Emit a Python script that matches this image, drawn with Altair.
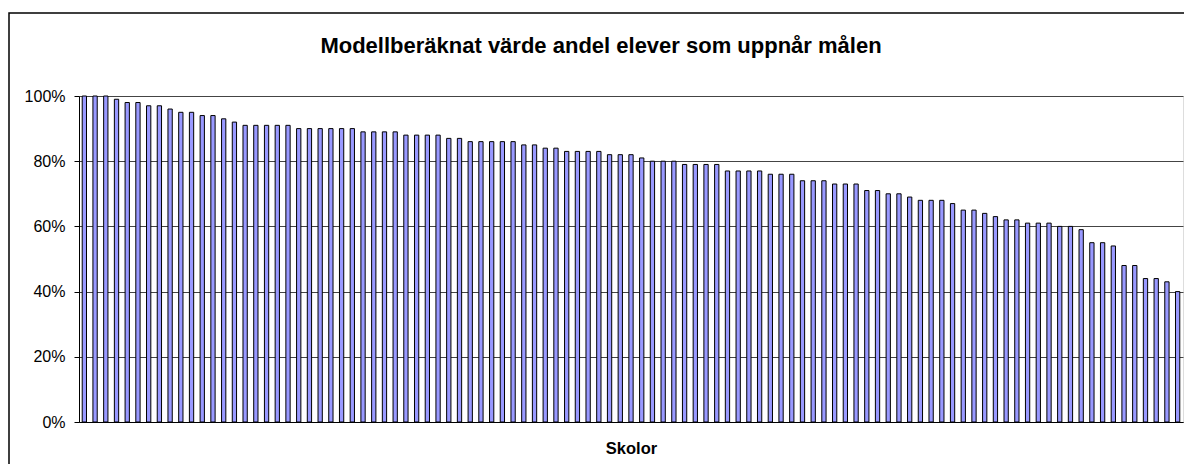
import altair as alt
import pandas as pd

# Model-computed share of pupils reaching the goals, per school (percent), sorted descending
values_pct = [
    100, 100, 100, 99, 98, 98, 97, 97, 96, 95, 95, 94, 94, 93, 92, 91, 91, 91, 91, 91,
    90, 90, 90, 90, 90, 90, 89, 89, 89, 89, 88, 88, 88, 88, 87, 87, 86, 86, 86, 86,
    86, 85, 85, 84, 84, 83, 83, 83, 83, 82, 82, 82, 81, 80, 80, 80, 79, 79, 79, 79,
    77, 77, 77, 77, 76, 76, 76, 74, 74, 74, 73, 73, 73, 71, 71, 70, 70, 69, 68, 68,
    68, 67, 65, 65, 64, 63, 62, 62, 61, 61, 61, 60, 60, 59, 55, 55, 54, 48, 48, 44,
    44, 43, 40,
]
schools = [f"Skola {i + 1}" for i in range(len(values_pct))]
y_ticks = [0, 0.2, 0.4, 0.6, 0.8, 1.0]

title_text = ["Modellberäknat värde andel elever som uppnår målen"]
x_title = "Skolor"

df = pd.DataFrame({"skola": schools, "andel": [v / 100 for v in values_pct]})

FONT = "Liberation Sans"
W, H = 1104, 326

bars = (
    alt.Chart(df)
    .mark_bar(fill="#9999FF", stroke="black", strokeWidth=1)
    .encode(
        x=alt.X(
            "skola:N",
            sort=None,
            scale=alt.Scale(paddingInner=0.6, paddingOuter=0.3),
            axis=alt.Axis(
                title=x_title,
                labels=False,
                ticks=False,
                domain=True,
                domainColor="black",
                domainWidth=1,
                titleFont=FONT,
                titleFontSize=16.5,
                titleFontWeight="bold",
                titleColor="black",
                titlePadding=18,
            ),
        ),
        y=alt.Y(
            "andel:Q",
            scale=alt.Scale(domain=[0, 1], nice=False),
            axis=alt.Axis(
                title=None,
                values=y_ticks,
                format="%",
                grid=True,
                gridColor="#444444",
                gridWidth=1,
                domain=True,
                domainColor="black",
                ticks=True,
                tickColor="black",
                tickSize=5,
                labelPadding=9,
                labelFont=FONT,
                labelFontSize=16,
                labelColor="black",
            ),
        ),
    )
)

frame = (
    alt.Chart(pd.DataFrame({"f": [0]}))
    .mark_rect(fillOpacity=0, stroke="black", strokeWidth=1.5)
    .encode(
        x=alt.value(-70),
        x2=alt.value(W + 20),
        y=alt.value(-83),
        y2=alt.value(H + 80),
    )
)

title = (
    alt.Chart(pd.DataFrame({"t": title_text}))
    .mark_text(
        font=FONT,
        fontSize=22,
        fontWeight="bold",
        color="black",
        align="center",
        baseline="alphabetic",
    )
    .encode(text="t:N", x=alt.value(522), y=alt.value(-43))
)

chart = (
    alt.layer(frame, bars, title)
    .properties(
        width=W,
        height=H,
        padding={"left": 71, "top": 88, "right": 1, "bottom": 42},
        autosize=alt.AutoSizeParams(type="none"),
    )
    .configure_view(stroke="#888888")
    .configure(background="white")
)

chart.save("out.html", embed_options={"renderer": "svg", "actions": False})
